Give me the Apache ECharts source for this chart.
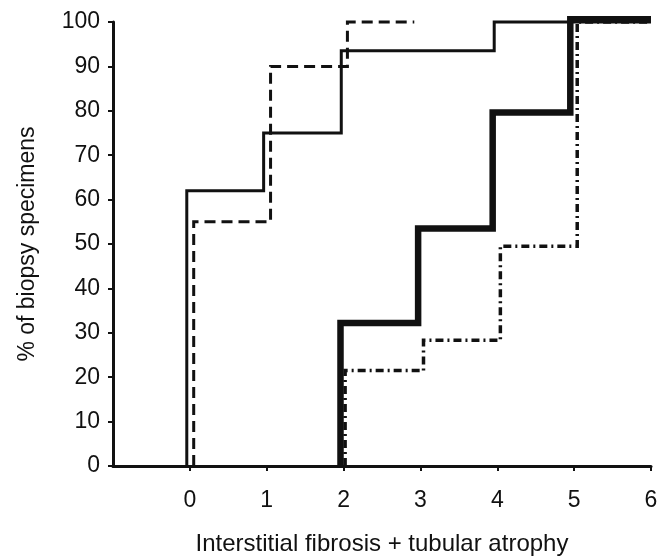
<!DOCTYPE html>
<html>
<head>
<meta charset="utf-8">
<script src="https://cdn.jsdelivr.net/npm/echarts@6/dist/echarts.min.js"></script>
<style>
  html, body { margin: 0; padding: 0; background: #fff; }
  #chart { width: 660px; height: 560px; }
</style>
</head>
<body>
<div id="chart"></div>
<script>
    // step curves: x where the curve jumps, y level after the jump
    const thinX = [-0.04, -0.04, 0.96, 1.97, 3.96, 6];
    const thinY = [0, 62, 75, 93.5, 100, 100];

    const dashX = [0.05, 0.05, 1.05, 2.05, 2.92];
    const dashY = [0, 55, 90, 100, 100];

    const thickX = [1.96, 1.96, 2.97, 3.94, 4.95, 6];
    const thickY = [0, 32.2, 53.5, 79.6, 100.6, 100.6];

    const dotDashX = [2.02, 2.02, 3.04, 4.04, 5.04, 6];
    const dotDashY = [0, 21.5, 28.3, 49.5, 100, 100];

    const xTicks = [0, 1, 2, 3, 4, 5, 6];

    const TextColor = '#111';
    const LineColor = '#111';
    const Font = 'Liberation Sans, Arial, sans-serif';

    const pairs = (xs, ys) => xs.map((x, i) => [x, ys[i]]);

    const chart = echarts.init(document.getElementById('chart'));

    const stepSeries = (name, xs, ys, width, dash) => ({
        name,
        type: 'line',
        step: 'end',
        showSymbol: false,
        clip: false,
        animation: false,
        data: pairs(xs, ys),
        lineStyle: {
            color: LineColor,
            width,
            type: dash,
            cap: 'butt',
            join: 'miter'
        }
    });

    chart.setOption({
        backgroundColor: '#fff',
        grid: {
            left: 113,
            right: 9,
            top: 22,
            bottom: 94,
            outerBoundsMode: 'none'
        },
        xAxis: {
            type: 'value',
            min: -1,
            max: 6,
            interval: 1,
            name: 'Interstitial fibrosis + tubular atrophy',
            nameLocation: 'middle',
            nameGap: 66,
            nameTextStyle: {
                color: TextColor,
                fontFamily: Font,
                fontSize: 24
            },
            axisLine: {
                onZero: false,
                lineStyle: { color: LineColor, width: 3 }
            },
            axisTick: {
                show: true,
                length: 5,
                customValues: xTicks,
                lineStyle: { color: LineColor, width: 2 }
            },
            axisLabel: {
                customValues: xTicks,
                margin: 23,
                color: TextColor,
                fontFamily: Font,
                fontSize: 23
            },
            splitLine: { show: false }
        },
        yAxis: {
            type: 'value',
            min: 0,
            max: 100,
            interval: 10,
            name: '% of biopsy specimens',
            nameLocation: 'middle',
            nameGap: 74,
            nameTextStyle: {
                color: TextColor,
                fontFamily: Font,
                fontSize: 23
            },
            axisLine: {
                show: true,
                onZero: false,
                lineStyle: { color: LineColor, width: 3 }
            },
            axisTick: {
                show: true,
                length: 5,
                lineStyle: { color: LineColor, width: 2 }
            },
            axisLabel: {
                margin: 13,
                color: TextColor,
                fontFamily: Font,
                fontSize: 23
            },
            splitLine: { show: false }
        },
        series: [
            stepSeries('thin', thinX, thinY, 3, 'solid'),
            stepSeries('dashed', dashX, dashY, 3, [11, 6]),
            stepSeries('dotdash', dotDashX, dotDashY, 3.5, [8, 4, 2, 4]),
            stepSeries('thick', thickX, thickY, 6.5, 'solid')
        ]
    });
</script>
</body>
</html>
